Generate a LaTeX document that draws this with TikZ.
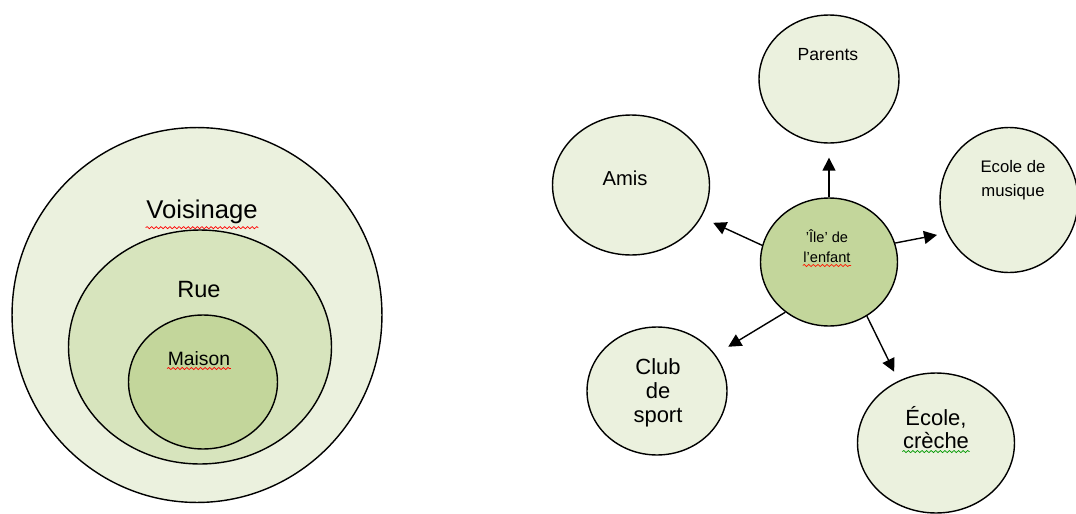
\documentclass[tikz,border=0pt]{standalone}
\usepackage{fontspec}
\setmainfont{Liberation Sans}
\usetikzlibrary{arrows.meta}
\usetikzlibrary{shapes.geometric}
\usetikzlibrary{decorations.pathmorphing}
\definecolor{palegreen}{RGB}{235,241,222}
\definecolor{midgreen}{RGB}{215,228,189}
\definecolor{deepgreen}{RGB}{195,214,155}
\def\px{0.02cm}
\def\fs#1#2{\fontsize{#1}{#2}\selectfont}

\begin{document}
\begin{tikzpicture}[x=\px,y=-\px,>={Triangle[length=0.26cm,width=0.26cm]},
  line width=0.8pt,
  ring/.style={ellipse,draw,inner sep=0pt},
  satellite/.style={ring,fill=palegreen},
  word/.style={anchor=base,align=center,inner sep=0pt},
  squiggle/.style={draw=#1,line width=0.4pt,decorate,
    decoration={snake,amplitude=0.6pt,segment length=2.6pt}}]

\useasboundingbox (0,0) rectangle (1076,514);

% left: nested zones
\node[ring,fill=palegreen,minimum width=7.4cm,minimum height=7.5cm] (voisinage) at (197,315) {};
\node[ring,fill=midgreen,minimum width=5.26cm,minimum height=4.68cm] (rue) at (200,347) {};
\node[ring,fill=deepgreen,minimum width=2.98cm,minimum height=2.68cm] (maison) at (203,382) {};

\node[word,font=\fs{14.6}{17}] (tvois) at ([shift={(5,-97)}]voisinage) {Voisinage};
\node[word,font=\fs{13.4}{16}] (true) at ([shift={(-1,-50)}]rue) {Rue};
\node[word,font=\fs{11}{13}] (tmaison) at ([shift={(-4,-17)}]maison) {Maison};

% right: the child's island and its links
\node[ring,fill=deepgreen,minimum width=2.74cm,minimum height=2.56cm] (ile) at (829,262) {};
\node[satellite,minimum width=2.8cm,minimum height=2.56cm] (parents) at (829,79) {};
\node[satellite,minimum width=3.14cm,minimum height=2.8cm] (amis) at (631,185) {};
\node[satellite,minimum width=2.76cm,minimum height=2.9cm] (musique) at (1009,200) {};
\node[satellite,minimum width=2.8cm,minimum height=2.56cm] (club) at (657,391) {};
\node[satellite,minimum width=3.14cm,minimum height=2.8cm] (creche) at (936,443) {};

% multi-line labels sit on their last baseline
\node[word,font=\fs{8.3}{11.3}] (tile) at ([shift={(-2,0)}]ile) {'Île' de\\l'enfant};
\node[word,font=\fs{10}{12}] (tparents) at ([shift={(-1,-19)}]parents) {Parents};
\node[word,font=\fs{11.5}{14}] (tamis) at ([shift={(-6,0)}]amis) {Amis};
\node[word,font=\fs{9.5}{13.6}] (tmusique) at ([shift={(4,-4)}]musique) {Ecole de\\musique};
\node[word,font=\fs{12.5}{13.6}] (tclub) at ([shift={(1,31)}]club) {Club\\de\\sport};
\node[word,font=\fs{12.5}{13}] (tcreche) at ([shift={(0,5)}]creche) {École,\\crèche};

\draw[->,shorten >=0.28cm] (ile.north) -- (parents);
\draw[->,shorten >=0.26cm] (ile.166) -- (amis);
\draw[->,shorten >=0.2cm] (ile.16) -- (musique.208);
\draw[->,shorten >=0.3cm] (ile.229) -- (club.32);
\draw[->,shorten >=0.2cm] (ile.305) -- (creche.121);

% spell-check marks
\draw[squiggle=red] ([yshift=-5.5pt]tvois.base west) -- ([yshift=-5.5pt]tvois.base east);
\draw[squiggle=red] ([yshift=-2pt]tmaison.base west) -- ([yshift=-2pt]tmaison.base east);
\draw[squiggle=red!80!orange] ([yshift=-1.5pt]tile.south west) -- ([yshift=-1.5pt]tile.south east);
\draw[squiggle=green!60!black] ([yshift=-1.5pt]tcreche.south west) -- ([yshift=-1.5pt]tcreche.south east);

\end{tikzpicture}
\end{document}
